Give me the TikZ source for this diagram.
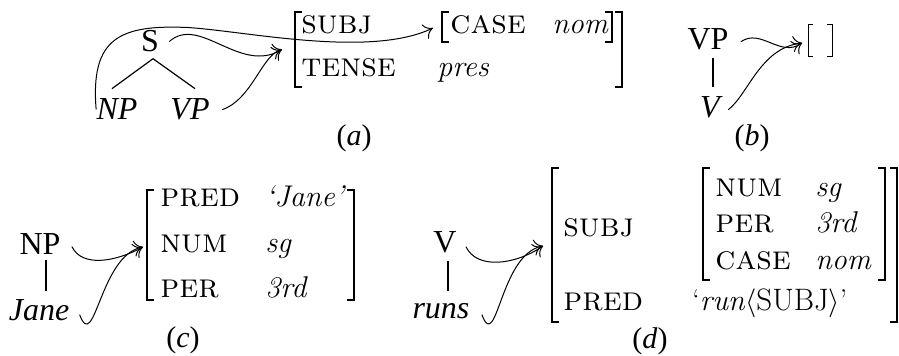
\documentclass[tikz,border=0pt]{standalone}
\usepackage{fontspec}
\newfontfamily\tms{Liberation Serif}
\usetikzlibrary{arrows.meta}
\newcommand\avmbrackets[3][3.5pt]{%
  \draw[brk,line width=#3] ([xshift=#1]#2.north west) -- (#2.north west) -- (#2.south west) -- ([xshift=#1]#2.south west);
  \draw[brk,line width=#3] ([xshift=-#1]#2.north east) -- (#2.north east) -- (#2.south east) -- ([xshift=-#1]#2.south east);}
\begin{document}
\begin{tikzpicture}[x=0.5pt,y=-0.5pt,
  tree/.style={font=\tms\fontsize{16}{19}\selectfont, anchor=base, inner sep=0pt},
  lab/.style={font=\fontsize{17}{20}\selectfont\scshape, anchor=base west, inner sep=0pt},
  val/.style={font=\fontsize{15}{18}\selectfont\itshape, anchor=base west, inner sep=0pt},
  rm/.style={font=\fontsize{15}{18}\selectfont, anchor=base west, inner sep=0pt},
  figlabel/.style={font=\tms\fontsize{15}{18}\selectfont, anchor=base, inner sep=0pt},
  avmbox/.style={rectangle, inner sep=0pt, outer sep=0pt},
  brk/.style={line join=miter},
  arr/.style={-{To[length=4.5pt,width=8pt]}, line width=0.5pt},
  treeline/.style={line width=0.6pt}]
\useasboundingbox (0,0) rectangle (899,356);

% ---------- (a)
\node[tree] (Sa) at (150,52) {S};
\node[tree] (NPa) at (117,120) {\itshape NP};
\node[tree] (VPa) at (190,120) {\itshape VP};
\draw[treeline] ([shift={(3,6)}]Sa.south) -- ([shift={(-5,-10)}]NPa.north);
\draw[treeline] ([shift={(3,6)}]Sa.south) -- ([shift={(5,-10)}]VPa.north);

\node[avmbox, minimum width=163.5pt, minimum height=37.5pt] (avmA) at (458.5,49.5) {};
\node[avmbox, minimum width=85pt, minimum height=15pt] (avmAsub) at (527,27) {};
\avmbrackets{avmA}{0.8pt}
\avmbrackets{avmAsub}{0.8pt}
\node[lab] (a-subj) at (301,34) {subj};
\node[lab] (a-tense) at (301,77) {tense};
\node[lab] (a-case) at (450,34) {case};
\node[val] (a-nom) at (552,34) {nom};
\node[val] (a-pres) at (437,77) {pres};

\draw[arr] ([shift={(10,0)}]Sa.east) .. controls +(30,-27) and +(-42,25) .. ([shift={(-13,0)}]avmA.west);
\draw[arr] ([shift={(12,0)}]VPa.east) .. controls +(30,-10) and +(-20,5) .. ([shift={(-13,0)}]avmA.west);
\draw[arr] (NPa.west) .. controls +(-6,-72) and +(-68,-3) .. ++(92,-82)
   .. controls +(60,4) and +(-63,30) .. ([shift={(-9,1)}]avmAsub.west);
\node[figlabel] (la) at (354,146) {(\textit{a})};

% ---------- (b)
\node[tree] (VPb) at (708,50) {VP};
\node[tree] (Vb) at (710,118) {\itshape V};
\draw[treeline] ([shift={(5,7)}]VPb.south) -- ([shift={(3,-10)}]Vb.north);
\node[avmbox, minimum width=12pt, minimum height=16pt] (avmB) at (820,41) {};
\avmbrackets[2.5pt]{avmB}{0.5pt}
\draw[arr] ([shift={(12,2)}]VPb.east) .. controls +(20,-14) and +(-22,15) .. ([shift={(-6,2)}]avmB.west);
\draw[arr] ([shift={(8,2)}]Vb.east) .. controls +(20,-15) and +(-42,5) .. ([shift={(-6,2)}]avmB.west);
\node[figlabel] (lb) at (752,146) {(\textit{b})};

% ---------- (c)
\node[tree] (NPc) at (40,255) {NP};
\node[tree] (Janec) at (39,321) {\itshape Jane};
\draw[treeline] ([shift={(6,5)}]NPc.south) -- ([shift={(7,-9)}]Janec.north);
\node[avmbox, minimum width=103.5pt, minimum height=55pt] (avmC) at (250.5,245) {};
\avmbrackets{avmC}{0.8pt}
\node[lab] (c-pred) at (160,207) {pred};
\node[lab] (c-num) at (160,253) {num};
\node[lab] (c-per) at (160,298) {per};
\node[val] (c-jane) at (265,207) {‘Jane’};
\node[val] (c-sg) at (265,253) {sg};
\node[val] (c-3rd) at (265,298) {3rd};
\draw[arr] ([shift={(11,2)}]NPc.east) .. controls +(10,21) and +(-28,15) .. ([shift={(-4,2)}]avmC.west);
\draw[arr] ([shift={(10,4)}]Janec.east) .. controls +(15,40) and +(-43,8) .. ([shift={(-4,2)}]avmC.west);
\node[figlabel] (lc) at (183,348) {(\textit{c})};

% ---------- (d)
\node[tree] (Vd) at (445,253) {V};
\node[tree] (runsd) at (441,319) {\itshape runs};
\draw[treeline] ([shift={(3,7)}]Vd.south) -- ([shift={(7,-13)}]runsd.north);
\node[avmbox, minimum width=172.5pt, minimum height=77pt] (avmD) at (724.5,245) {};
\node[avmbox, minimum width=91pt, minimum height=56pt] (avmDsub) at (794,224) {};
\avmbrackets{avmD}{0.8pt}
\avmbrackets{avmDsub}{0.8pt}
\node[lab] (d-subj) at (563,237) {subj};
\node[lab] (d-pred) at (563,311) {pred};
\node[lab] (d-num) at (715,197) {num};
\node[lab] (d-per) at (715,233) {per};
\node[lab] (d-case) at (715,270) {case};
\node[val] (d-sg) at (815,197) {sg};
\node[val] (d-3rd) at (815,233) {3rd};
\node[val] (d-nom) at (815,270) {nom};
\node[rm] (d-run) at (692,311) {‘\textit{run}{\fontsize{15.5}{18}\selectfont$\langle$SUBJ$\rangle$}’};
\draw[arr] ([shift={(9,4)}]Vd.east) .. controls +(11,23) and +(-28,19) .. ([shift={(-9,1)}]avmD.west);
\draw[arr] ([shift={(12,3)}]runsd.east) .. controls +(15,40) and +(-43,8) .. ([shift={(-9,1)}]avmD.west);
\node[figlabel] (ld) at (650,349) {(\textit{d})};
\end{tikzpicture}
\end{document}
